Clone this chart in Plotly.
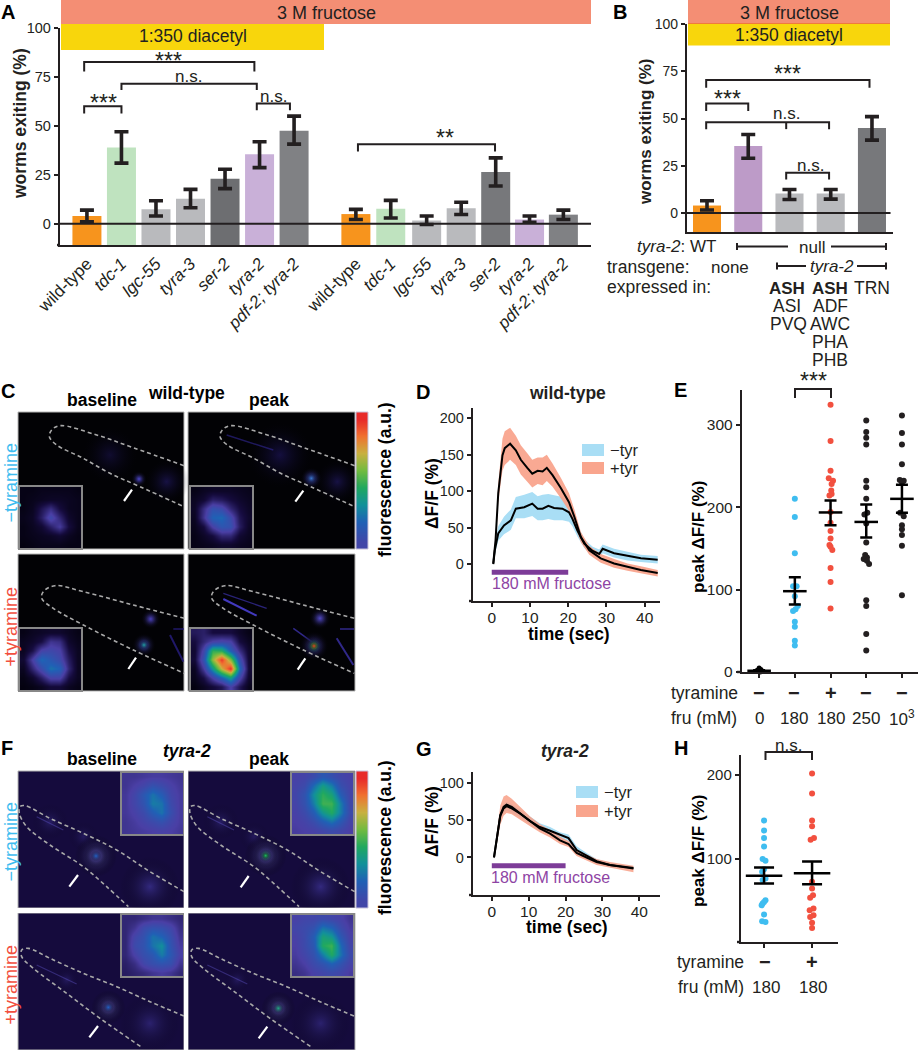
import plotly.graph_objects as go

INK = "#231f20"
FONT = "Liberation Sans"
BLUE = "#3fbdf0"
RED = "#f2503f"
W, H = 920, 1050

# ---- panel A data
a_labels = ["wild-type", "<i>tdc-1</i>", "<i>lgc-55</i>", "<i>tyra-3</i>", "<i>ser-2</i>", "<i>tyra-2</i>", "<i>pdf-2; tyra-2</i>"] * 2
a_pos = [0, 1, 2, 3, 4, 5, 6, 7.79, 8.8, 9.84, 10.84, 11.84, 12.82, 13.8]
a_vals = [4, 39, 7.5, 12.8, 23, 35.5, 47.5, 5, 7.7, 1.7, 8, 26.5, 2.2, 4.7]
a_hi = [7, 47, 11.8, 17.6, 27.9, 41.9, 55, 7.4, 12, 4, 11, 33.7, 4, 7]
a_lo = [1, 31, 4, 8.2, 18, 28.7, 40.7, 2.2, 3, -0.3, 4.8, 19.3, 0.8, 2.2]
a_cols = ["#f7941d", "#bfe3bf", "#b9babd", "#b9babd", "#6d6e71", "#c9b0d8", "#808184",
          "#f7941d", "#bfe3bf", "#b9babd", "#b9babd", "#77787b", "#c9b0d8", "#808184"]
# ---- panel B data
b_pos = [0, 1, 2, 3, 4]
b_vals = [4, 35.5, 10.3, 10.3, 45]
b_hi = [6.5, 41.6, 12.5, 12.5, 51]
b_lo = [1.6, 29, 7.2, 7.4, 38.6]
b_cols = ["#f7941d", "#bd9bc8", "#b9babd", "#b9babd", "#77787b"]
# ---- panel D data
d_tp = [.4, 1, 1.7, 2.4, 2.8, 3.4, 4.8, 6.3, 7.6, 9.3, 10.6, 12, 13.3, 14.4, 15.9, 18.1, 20.2, 21.6, 23.3, 25.5, 28.5, 32, 35.5, 39, 43.4]
d_plus = [1, 33, 97, 133, 149, 159, 165, 156, 143, 132, 124, 128, 127, 132, 122, 104, 85, 65, 37, 19, 8, 1, -4, -8, -12]
d_plus_up = [1, 40, 110, 155, 172, 182, 187, 176, 163, 152, 143, 146, 146, 150, 138, 118, 97, 75, 44, 25, 14, 7, 1, -3, -8]
d_plus_lo = [1, 26, 84, 113, 128, 136, 143, 136, 123, 113, 105, 110, 108, 114, 106, 90, 73, 55, 30, 13, 2, -5, -9, -13, -17]
d_tm = [.4, .8, 1.7, 3.2, 5, 6.3, 8.5, 10.6, 12, 13.3, 14.8, 16.3, 18.5, 20.2, 21.1, 22.4, 24.2, 26.4, 28.1, 29, 32, 35.5, 39, 43.4]
d_minus = [0, 19, 42, 53, 60, 76, 78, 83, 76, 76, 80, 77, 76, 71, 62, 46, 28, 18, 14, 21, 15, 11, 8, 6]
d_minus_up = [0, 25, 52, 65, 75, 92, 95, 99, 93, 95, 96, 94, 92, 84, 72, 54, 34, 24, 20, 27, 21, 17, 13, 11]
d_minus_lo = [0, 13, 32, 41, 47, 63, 63, 66, 60, 60, 62, 60, 60, 58, 52, 38, 22, 12, 9, 15, 9, 5, 3, 1]
# ---- panel G data
g_t = [.6, 1.5, 2.3, 3.2, 4, 5.4, 7.7, 10.4, 13, 15.8, 18.5, 20.8, 23, 25.7, 28.4, 32, 38.4]
g_plus = [0, 32, 57, 68, 71, 68, 59, 48, 39, 32, 23, 18, 6, 0, -6, -10, -15]
g_plus_up = [2, 40, 70, 82, 84, 79, 68, 55, 45, 37, 28, 22, 10, 4, -2, -6, -11]
g_plus_lo = [-2, 24, 44, 56, 60, 58, 51, 42, 34, 27, 18, 14, 2, -4, -10, -14, -20]
g_minus = [0, 30, 56, 66, 69, 66, 59, 49, 41, 36, 30, 26, 10, 2, -5, -10, -14]
g_minus_up = [2, 36, 62, 72, 75, 72, 64, 54, 46, 41, 34, 31, 15, 6, -2, -7, -12]
g_minus_lo = [-2, 26, 50, 60, 63, 60, 54, 44, 36, 31, 25, 21, 6, -2, -8, -13, -16]
# ---- panel E data
e0 = [5, 3, 2, 1, 1, .5, 0]
e0_off = [0, .05, -.05, .1, -.1, 0, .03]
e1 = [210, 188, 144, 104, 104, 92, 80, 76, 74, 61, 55, 38, 32]
e1_off = [0, 0, 0, -.05, .05, 0, .08, .02, -.05, 0, 0, 0, 0]
e2 = [324, 280, 244, 235, 232, 228, 220, 216, 214, 194, 181, 171, 162, 154, 152, 148, 126, 109, 77]
e2_off = [0, 0, 0, -.05, .07, .03, .02, .03, -.03, 0, 0, 0, 0, -.03, 0, .05, 0, 0, 0]
e3 = [305, 291, 284, 276, 232, 224, 210, 193, 191, 180, 157, 142, 139, 137, 135, 131, 87, 80, 46, 26]
e3_off = [0, 0, 0, 0, 0, 0, 0, .03, -.05, 0, 0, -.03, .02, -.07, .02, .08, 0, 0, 0, 0]
e4 = [311, 290, 276, 252, 233, 232, 230, 193, 189, 178, 173, 166, 153, 93]
e4_off = [0, 0, 0, 0, -.06, .05, 0, -.05, .05, 0, 0, 0, 0, 0]
e_means = [1.5, 98, 193.5, 182, 210]
e_hi = [2, 115, 208, 203, 227]
e_lo = [1, 82, 178, 163, 193]
# ---- panel H data
h0 = [146, 134, 125, 115, 100, 98, 88, 85, 77, 75, 51, 49, 47, 45, 34, 26, 25]
h0_off = [0, 0, 0, 0, -.03, .03, 0, -.04, .03, -.03, .03, 0, -.03, -.05, 0, -.04, .03]
h1 = [202, 178, 146, 139, 125, 123, 73, 65, 57, 54, 41, 39, 33, 31, 24, 18]
h1_off = [0, 0, 0, 0, .04, -.03, 0, 0, .02, -.04, .03, -.05, .03, -.04, 0, 0]
h_means = [80, 83]
h_hi = [90, 97]
h_lo = [71, 70]
# ---- microscope insets (fluorescence, 0-1)
ins_c1b = [[.03,.03,.04,.04,.04,.04,.03],[.03,.04,.05,.06,.06,.05,.04],[.03,.05,.13,.20,.10,.05,.04],[.04,.06,.16,.30,.18,.07,.04],[.03,.05,.08,.16,.24,.10,.04],[.03,.04,.05,.06,.08,.05,.03],[.02,.03,.04,.04,.04,.03,.03]]
ins_c1p = [[.03,.05,.06,.06,.06,.05,.04],[.05,.08,.16,.14,.10,.07,.05],[.06,.20,.33,.30,.18,.10,.06],[.05,.22,.40,.42,.30,.13,.07],[.04,.10,.26,.35,.33,.15,.06],[.03,.06,.10,.18,.18,.08,.05],[.03,.04,.05,.07,.07,.05,.04]]
ins_c2b = [[.03,.05,.06,.07,.07,.05,.03],[.05,.07,.11,.22,.20,.07,.04],[.05,.12,.27,.29,.26,.11,.05],[.08,.26,.42,.36,.30,.15,.05],[.05,.18,.31,.44,.40,.18,.05],[.03,.07,.16,.27,.27,.11,.05],[.02,.03,.05,.09,.09,.05,.03]]
ins_c2p = [[.14,.16,.10,.10,.10,.06,.03],[.10,.18,.26,.28,.26,.10,.05],[.08,.28,.62,.60,.38,.20,.07],[.09,.34,.74,.98,.72,.32,.08],[.05,.24,.52,.80,1.0,.42,.09],[.04,.11,.26,.40,.55,.28,.07],[.02,.05,.09,.13,.26,.13,.04]]
ins_f1b = [[.22,.22,.23,.24,.24,.23,.22],[.22,.25,.28,.33,.30,.26,.23],[.23,.28,.36,.44,.38,.28,.24],[.23,.28,.34,.46,.44,.30,.24],[.23,.26,.30,.38,.44,.32,.24],[.22,.24,.27,.30,.33,.28,.24],[.22,.23,.24,.25,.26,.25,.23]]
ins_f1p = [[.26,.27,.30,.36,.32,.28,.26],[.27,.30,.42,.54,.46,.32,.27],[.28,.34,.50,.62,.56,.38,.28],[.27,.33,.46,.64,.64,.46,.29],[.26,.30,.38,.52,.60,.46,.30],[.25,.27,.31,.38,.44,.36,.27],[.24,.25,.26,.28,.30,.28,.25]]
ins_f2b = [[.18,.18,.20,.22,.22,.20,.18],[.18,.22,.30,.33,.32,.28,.20],[.18,.28,.33,.44,.40,.32,.22],[.18,.30,.34,.44,.50,.34,.24],[.18,.26,.32,.36,.46,.36,.26],[.16,.20,.28,.32,.34,.32,.22],[.15,.17,.19,.22,.24,.22,.18]]
ins_f2p = [[.26,.28,.28,.30,.28,.26,.22],[.28,.30,.33,.44,.40,.30,.24],[.26,.30,.38,.56,.52,.36,.26],[.25,.30,.36,.60,.64,.42,.28],[.24,.28,.33,.46,.60,.44,.30],[.22,.25,.30,.34,.40,.34,.27],[.20,.22,.26,.28,.30,.28,.24]]
colorbar_z = [1, .92, .84, .76, .68, .6, .52, .44, .36, .28]
JET = [[0, "#000005"], [.1, "#150b3d"], [.25, "#4a3fa5"], [.4, "#2060b5"], [.5, "#12909a"], [.6, "#20a860"],
       [.7, "#70bb40"], [.8, "#c8b040"], [.9, "#f07030"], [1, "#e82a2a"]]

fig = go.Figure()
annots, shapes = [], []
layout = {}
layout["xaxis"] = dict(domain=[0, 1], range=[0, W], visible=False, fixedrange=True, automargin=False)
layout["yaxis"] = dict(domain=[0, 1], range=[H, 0], visible=False, fixedrange=True, automargin=False)


def txt(x, y, s, size=15, color=INK, bold=False, anchor="center", angle=0):
    if bold:
        s = "<b>" + s + "</b>"
    annots.append(dict(x=x, y=y, xref="x", yref="y", text=s, showarrow=False, xanchor=anchor, yanchor="middle",
                       font=dict(size=size, color=color, family=FONT), textangle=angle))


def rect(x0, y0, x1, y1, fill, line=None, lw=0, layer="below"):
    shapes.append(dict(type="rect", xref="x", yref="y", x0=x0, y0=y0, x1=x1, y1=y1, fillcolor=fill,
                       line=dict(color=line or fill, width=lw), layer=layer))


def axes(n, x0, x1, yt, yb, xr, yr, tickvals, ticks_x=None, ticktext_x=None, xkw=None, ysize=15):
    xa = dict(domain=[x0 / W, x1 / W], range=xr, anchor=f"y{n}", showgrid=False, zeroline=False, showline=True, automargin=False,
              linecolor=INK, linewidth=2.4, ticks="outside" if ticks_x is not None else "", ticklen=3.5, tickwidth=2,
              tickcolor=INK, tickvals=ticks_x if ticks_x is not None else [], ticklabelstandoff=-2,
              ticktext=ticktext_x, tickfont=dict(size=15.5, color=INK, family=FONT), fixedrange=True)
    if xkw:
        xa.update(xkw)
    ya = dict(domain=[1 - yb / H, 1 - yt / H], range=yr, anchor=f"x{n}", showgrid=False, zeroline=False, showline=True, automargin=False,
              linecolor=INK, linewidth=2.4, ticks="outside", ticklen=4, tickwidth=2, tickcolor=INK, tickvals=tickvals,
              tickfont=dict(size=ysize, color=INK, family=FONT), fixedrange=True)
    layout[f"xaxis{n}"] = xa
    layout[f"yaxis{n}"] = ya
    return f"x{n}", f"y{n}"


def bars(xa, ya, pos, vals, hi, lo, cols, bottom, width, xr, capw):
    fig.add_trace(go.Bar(x=pos, y=[v - bottom for v in vals], base=bottom, width=width, marker=dict(color=cols, line=dict(width=0)),
                         xaxis=xa, yaxis=ya, hoverinfo="skip", showlegend=False))
    fig.add_trace(go.Scatter(x=xr, y=[0, 0], mode="lines", line=dict(color=INK, width=2), xaxis=xa, yaxis=ya,
                             hoverinfo="skip", showlegend=False))
    fig.add_trace(go.Scatter(x=pos, y=vals, mode="markers", marker=dict(size=1, color=INK), xaxis=xa, yaxis=ya,
                             error_y=dict(type="data", symmetric=False, array=[h - v for h, v in zip(hi, vals)],
                                          arrayminus=[v - l for v, l in zip(vals, lo)], color=INK, thickness=3.6, width=capw),
                             hoverinfo="skip", showlegend=False))


def bracket(xa, ya, x0, x1, top, left, right, mids=()):
    xs = [x0, x0, x1, x1]
    ys = [left, top, top, right]
    for m in mids:
        xs += [None, m, m]
        ys += [None, top, left]
    fig.add_trace(go.Scatter(x=xs, y=ys, mode="lines", line=dict(color=INK, width=2), xaxis=xa, yaxis=ya,
                             cliponaxis=False, hoverinfo="skip", showlegend=False))


def curve(xa, ya, t, mean, up, lo, fill):
    fig.add_trace(go.Scatter(x=t + t[::-1], y=up + lo[::-1], mode="lines", line=dict(width=0), fill="toself", fillcolor=fill,
                             xaxis=xa, yaxis=ya, hoverinfo="skip", showlegend=False))
    return go.Scatter(x=t, y=mean, mode="lines", line=dict(color="#000000", width=2), xaxis=xa, yaxis=ya,
                      hoverinfo="skip", showlegend=False)


def dots(xa, ya, pos, vals, offs, col, size=6):
    fig.add_trace(go.Scatter(x=[pos + o for o in offs], y=vals, mode="markers", marker=dict(size=size, color=col, line=dict(width=0)),
                             xaxis=xa, yaxis=ya, cliponaxis=False, hoverinfo="skip", showlegend=False))


def means(xa, ya, pos, m, hi, lo, half, capw):
    fig.add_trace(go.Scatter(x=pos, y=m, mode="markers", marker=dict(size=1, color="#000000"), xaxis=xa, yaxis=ya,
                             cliponaxis=False, hoverinfo="skip", showlegend=False,
                             error_y=dict(type="data", symmetric=False, array=[h - v for h, v in zip(hi, m)],
                                          arrayminus=[v - l for v, l in zip(m, lo)], color="#000000", thickness=2.5, width=capw),
                             error_x=dict(type="constant", value=half, color="#000000", thickness=2.5, width=0)))


# ---------- image panels on the page-pixel axes
def zc(x, y, oy):
    return x / 3, oy + y / 3


def outline(pts, dx, oy, color="#a9a9a9"):
    xs, ys = zip(*[zc(px + dx, py, oy) for px, py in pts])
    fig.add_trace(go.Scatter(x=list(xs), y=list(ys), mode="lines", line=dict(color=color, width=1.6, dash="4px,3px", shape="spline"),
                             xaxis="x", yaxis="y", hoverinfo="skip", showlegend=False))


def stroke(p, q, oy, color="#ffffff", w=2.2):
    a, b = zc(*p, oy), zc(*q, oy)
    fig.add_trace(go.Scatter(x=[a[0], b[0]], y=[a[1], b[1]], mode="lines", line=dict(color=color, width=w), xaxis="x", yaxis="y",
                             hoverinfo="skip", showlegend=False))


def glow(x, y, oy, size, color):
    a = zc(x, y, oy)
    fig.add_trace(go.Scatter(x=[a[0]], y=[a[1]], mode="markers", xaxis="x", yaxis="y", hoverinfo="skip", showlegend=False,
                             marker=dict(size=size, color="rgba(0,0,0,0)", line=dict(width=0), gradient=dict(type="radial", color=color))))


def inset(x0, y0, s, z):
    n = len(z)
    dx = s / n
    fig.add_trace(go.Heatmap(z=z, x0=x0 + dx / 2, dx=dx, y0=y0 + dx / 2, dy=dx, colorscale=JET, zmin=0, zmax=1, zsmooth="best",
                             showscale=False, xaxis="x", yaxis="y", hoverinfo="skip"))
    rect(x0, y0, x0 + s, y0 + s, "rgba(0,0,0,0)", "#888888", 2, "above")


def cbar(x0, x1, y0, y1):
    n = len(colorbar_z)
    dy = (y1 - y0) / n
    cw = (x1 - x0) / 2
    fig.add_trace(go.Heatmap(z=[[v, v] for v in colorbar_z], x0=x0 + cw / 2, dx=cw, y0=y0 + dy / 2, dy=dy, colorscale=JET, zmin=0, zmax=1,
                             zsmooth="best", showscale=False, xaxis="x", yaxis="y", hoverinfo="skip"))


OC, OF = 375, 690
PX = [(18, 184), (188, 355)]
for (a, b) in PX:
    for (t, u) in [(412, 549), (554, 691)]:
        rect(a, t, b, u, "#020205", "#b5b5b5", 1)
for (a, b) in PX:
    for (t, u) in [(771, 908), (913, 1050)]:
        rect(a, t, b, u, "#150b3d", "#b5b5b5", 1)

out_c1 = [(552, 272), (400, 218), (290, 180), (180, 152), (155, 165), (148, 185), (170, 210), (250, 250), (330, 295), (420, 335), (552, 395)]
out_c2 = [(553, 730), (400, 690), (250, 650), (165, 632), (130, 650), (125, 670), (160, 700), (250, 750), (400, 825), (553, 895)]
out_f1 = [(552, 605), (450, 545), (350, 480), (250, 430), (150, 385), (75, 347), (60, 350), (58, 370), (80, 410), (150, 465), (250, 530), (320, 590), (385, 650)]
out_f2 = [(552, 978), (450, 935), (350, 890), (250, 850), (150, 805), (85, 775), (65, 780), (65, 800), (100, 835), (200, 910), (300, 985), (425, 1072)]

# faint body glow
for dx in (0, 512):
    glow(500 + dx, 320, OC, 46, "rgba(40,30,120,0.55)")
glow(330, 240, OC, 60, "rgba(30,22,90,0.5)")
glow(840, 240, OC, 70, "rgba(35,25,110,0.55)")
stroke((680, 180), (820, 225), OC, "rgba(50,40,150,0.6)", 1.5)
stroke((670, 655), (800, 700), OC, "rgba(60,50,170,0.7)", 1.3)
stroke((670, 672), (770, 722), OC, "rgba(70,60,200,0.95)", 2)
stroke((880, 760), (935, 800), OC, "rgba(60,50,170,0.8)", 1.5)
stroke((1010, 790), (1060, 870), OC, "rgba(60,50,170,0.8)", 2)
stroke((510, 780), (550, 860), OC, "rgba(40,30,130,0.8)", 2)
stroke((520, 762), (552, 762), OC, "rgba(40,30,130,0.8)", 1.5)
stroke((1020, 762), (1062, 762), OC, "rgba(60,50,170,0.8)", 1.5)
# spots C
for s, c in [(16, "#4a44c0"), (11, "#4a44c0")]:
    glow(417, 312, OC, s, c)
for s, c in [(22, "#4a48c8"), (15, "#3a58c8"), (10, "#3a78d0")]:
    glow(934, 310, OC, s, c)
for s, c in [(24, "#4a44b8"), (16, "#3a58c8"), (9, "#20a0a0")]:
    glow(432, 810, OC, s, c)
for s, c in [(20, "#4a40b8"), (14, "#4a40b8")]:
    glow(452, 732, OC, s, c)
for s, c in [(30, "#4a3fb5"), (22, "#4a3fb5"), (16, "#20a860"), (10, "#c8c030"), (6, "#e83a2a")]:
    glow(942, 813, OC, s, c)
for s, c in [(22, "#4a40b8"), (16, "#5048c0")]:
    glow(960, 730, OC, s, c)

# F glows
for dx in (0, 512):
    glow(450 + dx, 590, OF, 60, "rgba(70,60,170,0.6)")
    glow(450 + dx, 1000, OF, 60, "rgba(70,60,170,0.45)")
    glow(150 + dx, 395, OF, 36, "rgba(70,60,170,0.35)")
    glow(250 + dx, 440, OF, 30, "rgba(70,60,170,0.3)")
    glow(200 + dx, 870, OF, 26, "rgba(70,60,170,0.3)")
    stroke((110 + dx, 380), (190 + dx, 420), OF, "rgba(90,80,190,0.45)", 1.2)
    stroke((110 + dx, 825), (230 + dx, 882), OF, "rgba(90,80,190,0.45)", 1.2)
for s, c in [(42, "#5a50b8"), (24, "#5a50b8"), (11, "#2060c5")]:
    glow(288, 498, OF, s, c)
for s, c in [(42, "#5a50b8"), (24, "#5a50b8"), (13, "#20b060"), (7, "#20c060")]:
    glow(797, 497, OF, s, c)
for s, c in [(34, "#5a50b8"), (20, "#5a50b8"), (11, "#2060c5")]:
    glow(325, 952, OF, s, c)
for s, c in [(34, "#5a50b8"), (20, "#5a50b8"), (11, "#20a880")]:
    glow(835, 955, OF, s, c)

outline(out_c1, 0, OC)
outline(out_c1, 512, OC)
outline(out_c2, 0, OC)
outline(out_c2, 510, OC)
outline(out_f1, 0, OF)
outline(out_f1, 512, OF)
outline(out_f2, 0, OF)
outline(out_f2, 510, OF)

for p, q, o in [((372, 378), (396, 344), OC), ((886, 380), (910, 347), OC), ((385, 882), (408, 848), OC), ((893, 884), (916, 850), OC),
                ((208, 590), (234, 555), OF), ((722, 592), (746, 558), OF), ((268, 1042), (294, 1008), OF), ((776, 1045), (802, 1010), OF)]:
    stroke(p, q, o)

inset(19, 486, 63, ins_c1b)
inset(190, 486, 63, ins_c1p)
inset(19, 628, 63, ins_c2b)
inset(190, 628, 63, ins_c2p)
inset(121, 772, 63, ins_f1b)
inset(291, 772, 63, ins_f1p)
inset(121, 914, 63, ins_f2b)
inset(291, 914, 63, ins_f2p)
cbar(356, 368, 412, 549)
cbar(356, 368, 771, 908)
rect(356, 412, 368, 549, "rgba(0,0,0,0)", "#c9c2dc", 1, "above")
rect(356, 771, 368, 908, "rgba(0,0,0,0)", "#c9c2dc", 1, "above")
# white gutters keep glows inside their tiles
rect(184, 771, 188, 1050, "#ffffff", layer="above")
rect(18, 908, 355, 913, "#ffffff", layer="above")

# top bands
rect(61, 0, 591, 24, "#f48e74")
rect(61, 24, 324, 50, "#f8d60c")
rect(688, 0, 890, 23, "#f48e74")
rect(688, 23, 890, 24, "#f07a3c")
rect(688, 24, 890, 45.5, "#f8d60c")

# ---------- A
ar = [-0.78, 14.6]
xa, ya = axes(2, 60, 591, 28, 245, ar, [-10.8, 100], [0, 25, 50, 75, 100], a_pos, a_labels,
              dict(ticks="", tickangle=-45, tickfont=dict(size=17, color=INK, family=FONT), ticklen=2, ticklabelstandoff=0), ysize=14.5)
bars(xa, ya, a_pos, a_vals, a_hi, a_lo, a_cols, -10.8, 0.84, ar, 7)
bracket(xa, ya, -0.08, 4.85, 82.6, 77.8, 77.8)
bracket(xa, ya, 1.0, 4.92, 71.5, 68.4, 68.4)
bracket(xa, ya, -0.08, 1.0, 60, 56.4, 56.4)
bracket(xa, ya, 4.92, 5.88, 61.5, 58, 58)
bracket(xa, ya, 7.85, 11.82, 40.7, 37, 37)
# ---------- B
br = [-0.485, 4.51]
xb, yb = axes(3, 687, 893, 24, 232, br, [-10, 100], [0, 25, 50, 75, 100], xkw=dict(ticks=""), ysize=14)
bars(xb, yb, b_pos, b_vals, b_hi, b_lo, b_cols, -10, 0.68, [-0.485, 4.45], 7)
bracket(xb, yb, -0.02, 3.94, 70.4, 66.3, 66.3)
bracket(xb, yb, -0.02, 1, 58, 54, 54)
bracket(xb, yb, -0.02, 2.96, 48, 44.4, 44.4, mids=[1.92])
bracket(xb, yb, 1.92, 2.96, 21.3, 17.8, 17.8)
# ---------- D
dr = [-4.9, 44]
xd, yd = axes(4, 473, 660, 408, 601, dr, [-50.5, 214], [0, 50, 100, 150, 200], [0, 10, 20, 30, 40], ["0", "10", "20", "30", "40"], ysize=14.5)
l1 = curve(xd, yd, d_tm, d_minus, d_minus_up, d_minus_lo, "#a9def5")
l2 = curve(xd, yd, d_tp, d_plus, d_plus_up, d_plus_lo, "rgba(248,160,135,0.9)")
fig.add_trace(l1)
fig.add_trace(l2)
fig.add_trace(go.Scatter(x=[0, 20], y=[-11, -11], mode="lines", line=dict(color="#7d3c98", width=5), xaxis=xd, yaxis=yd, hoverinfo="skip", showlegend=False))
# ---------- G
xg, yg = axes(5, 473, 660, 772, 895, [-5.1, 45.6], [-50.5, 115], [0, 50, 100], [0, 10, 20, 30, 40], ["0", "10", "20", "30", "40"], ysize=14.5)
l1 = curve(xg, yg, g_t, g_minus, g_minus_up, g_minus_lo, "#a9def5")
l2 = curve(xg, yg, g_t, g_plus, g_plus_up, g_plus_lo, "rgba(248,160,135,0.85)")
fig.add_trace(l1)
fig.add_trace(l2)
fig.add_trace(go.Scatter(x=[0, 20], y=[-11, -11], mode="lines", line=dict(color="#7d3c98", width=5), xaxis=xg, yaxis=yg, hoverinfo="skip", showlegend=False))
# ---------- E
xe, ye = axes(6, 742, 918, 390, 672, [-0.48, 4.45], [0, 342], [0, 100, 200, 300], [0, 1, 2, 3, 4], None, dict(ticklen=4, showticklabels=False), ysize=15.5)
dots(xe, ye, 0, e0, e0_off, "#000000", 5)
dots(xe, ye, 1, e1, e1_off, BLUE)
dots(xe, ye, 2, e2, e2_off, RED)
dots(xe, ye, 3, e3, e3_off, INK)
dots(xe, ye, 4, e4, e4_off, INK)
means(xe, ye, [0, 1, 2, 3, 4], e_means, e_hi, e_lo, 0.33, 6)
# ---------- H
xh, yh = axes(7, 741, 838, 755, 942, [-0.48, 1.54], [1.2, 224], [100, 200], [0, 1], None, dict(ticklen=4, showticklabels=False), ysize=15)
dots(xh, yh, 0, h0, h0_off, BLUE)
dots(xh, yh, 1, h1, h1_off, RED)
means(xh, yh, [0, 1], h_means, h_hi, h_lo, 0.38, 10)

# legend swatches
rect(582, 444, 604, 456, "#a9def5")
rect(582, 462, 604, 474, "#f9a58d")
rect(576, 786, 598, 798, "#a9def5")
rect(576, 805, 598, 817, "#f9a58d")


# ---- page-level line work: table rules in B, brackets that sit above axes in E and H
def path(xs, ys, w=2):
    fig.add_trace(go.Scatter(x=xs, y=ys, mode="lines", line=dict(color=INK, width=w), xaxis="x", yaxis="y", hoverinfo="skip", showlegend=False))


path([795, 795, 831, 831], [398, 389, 389, 398])
path([765.5, 765.5, 812, 812], [760, 752, 752, 760])
for a, b, y in [(737, 788, 246.5), (831, 886, 246.5), (777, 806, 266), (857, 886, 266)]:
    path([a, b], [y, y])
for x, y in [(737, 246.5), (886, 246.5), (777, 266), (886, 266)]:
    path([x, x], [y - 3.5, y + 3.5])
# short overhang of the x axis lines to the left of the y axis
for a, b, y in [(57, 60, 245), (469, 473, 601), (469, 473, 895), (737, 741, 942), (737, 742, 672)]:
    path([a, b], [y, y], 2.4)

# ---- texts
for s, x, y in [("A", 8, 12), ("B", 620, 12), ("C", 8, 391), ("D", 423, 392), ("E", 680, 390), ("F", 7, 748), ("G", 424, 749), ("H", 681, 748)]:
    txt(x, y, s, 20, "#000000", True)

txt(326, 13, "3 M fructose", 18)
txt(193, 36, "1:350 diacetyl", 17.5)
txt(789, 13, "3 M fructose", 18)
txt(789, 35, "1:350 diacetyl", 17.5)
txt(20, 124, "worms exiting (%)", 17.5, INK, True, angle=-90)
txt(645, 132, "worms exiting (%)", 17, INK, True, angle=-90)
txt(168, 61, "***", 23)
txt(188, 76, "n.s.", 17)
txt(103, 103, "***", 23)
txt(273, 96, "n.s.", 17)
txt(445, 137.5, "**", 23)
txt(787, 73.5, "***", 23)
txt(727, 99, "***", 23)
txt(786, 113, "n.s.", 17)
txt(810, 165, "n.s.", 17)

txt(718, 246, "<i>tyra-2</i>: WT", 17, anchor="right")
txt(605, 267, "transgene:", 17.5, anchor="left")
txt(730, 267, "none", 17)
txt(605, 287, "expressed in:", 17.5, anchor="left")
txt(812, 247, "null", 17)
txt(832, 266, "<i>tyra-2</i>", 17)
txt(787, 288, "ASH", 17, INK, True)
txt(830, 288, "ASH", 17, INK, True)
txt(872, 288, "TRN", 17.5)
for s, x, y in [("ASI", 787, 306), ("ADF", 830, 306), ("PVQ", 788, 324), ("AWC", 830, 324), ("PHA", 830, 342), ("PHB", 830, 360)]:
    txt(x, y, s, 17.5)

txt(102, 400, "baseline", 17.5, "#000000", True)
txt(186, 393, "wild-type", 17.5, "#000000", True)
txt(269, 400, "peak", 17.5, "#000000", True)
txt(10.5, 483, "−tyramine", 18, BLUE, False, angle=-90)
txt(10.5, 627, "+tyramine", 18, RED, False, angle=-90)
txt(385, 480, "fluorescence (a.u.)", 17.5, "#000000", True, angle=-90)
txt(102, 759, "baseline", 17.5, "#000000", True)
txt(187, 751, "<i>tyra-2</i>", 17.5, "#000000", True)
txt(269, 759, "peak", 17.5, "#000000", True)
txt(10.5, 842, "−tyramine", 18, BLUE, False, angle=-90)
txt(10.5, 985, "+tyramine", 18, RED, False, angle=-90)
txt(385, 838, "fluorescence (a.u.)", 17.5, "#000000", True, angle=-90)

txt(567, 393, "wild-type", 17.5, INK, True)
txt(432, 494, "ΔF/F (%)", 17.5, "#000000", True, angle=-90)
txt(608, 450, "−tyr", 16.5, anchor="left")
txt(608, 468, "+tyr", 16.5, anchor="left")
txt(551, 583, "180 mM fructose", 16, "#8e44a4")
txt(569, 634, "time (sec)", 17.5, "#000000", True)

txt(565, 751, "<i>tyra-2</i>", 17.5, INK, True)
txt(432, 822, "ΔF/F (%)", 17.5, "#000000", True, angle=-90)
txt(602, 792, "−tyr", 16.5, anchor="left")
txt(602, 811, "+tyr", 16.5, anchor="left")
txt(550, 877, "180 mM fructose", 16, "#8e44a4")
txt(567, 927, "time (sec)", 17.5, "#000000", True)

txt(698, 537, "peak ΔF/F (%)", 17, "#000000", True, angle=-90)
txt(813, 380.5, "***", 23)
txt(669, 693, "tyramine", 17.5, anchor="left")
txt(669, 718, "fru (mM)", 17.5, anchor="left")
for x, s, f in [(759, "−", "0"), (794, "−", "180"), (831, "+", "180"), (866, "−", "250"), (902, "−", "10<sup>3</sup>")]:
    txt(x, 693, s, 20, INK, True)
    txt(x, 718, f, 17)

txt(698, 851, "peak ΔF/F (%)", 17, "#000000", True, angle=-90)
txt(788, 745, "n.s.", 17)
txt(675, 962, "tyramine", 17.5, anchor="left")
txt(676, 987, "fru (mM)", 17.5, anchor="left")
txt(765, 962, "−", 20, INK, True)
txt(812, 962, "+", 20, INK, True)
txt(766, 987, "180", 17)
txt(813, 987, "180", 17)

fig.update_layout(width=W, height=H, margin=dict(l=0, r=0, t=0, b=0), paper_bgcolor="#ffffff", plot_bgcolor="rgba(0,0,0,0)",
                  showlegend=False, annotations=annots, shapes=shapes, barmode="overlay",
                  font=dict(family=FONT, color=INK), **layout)
fig.write_html("out.html", config=dict(displayModeBar=False, responsive=False),
               post_script="document.body.style.margin='0';document.documentElement.style.overflow='hidden';")
